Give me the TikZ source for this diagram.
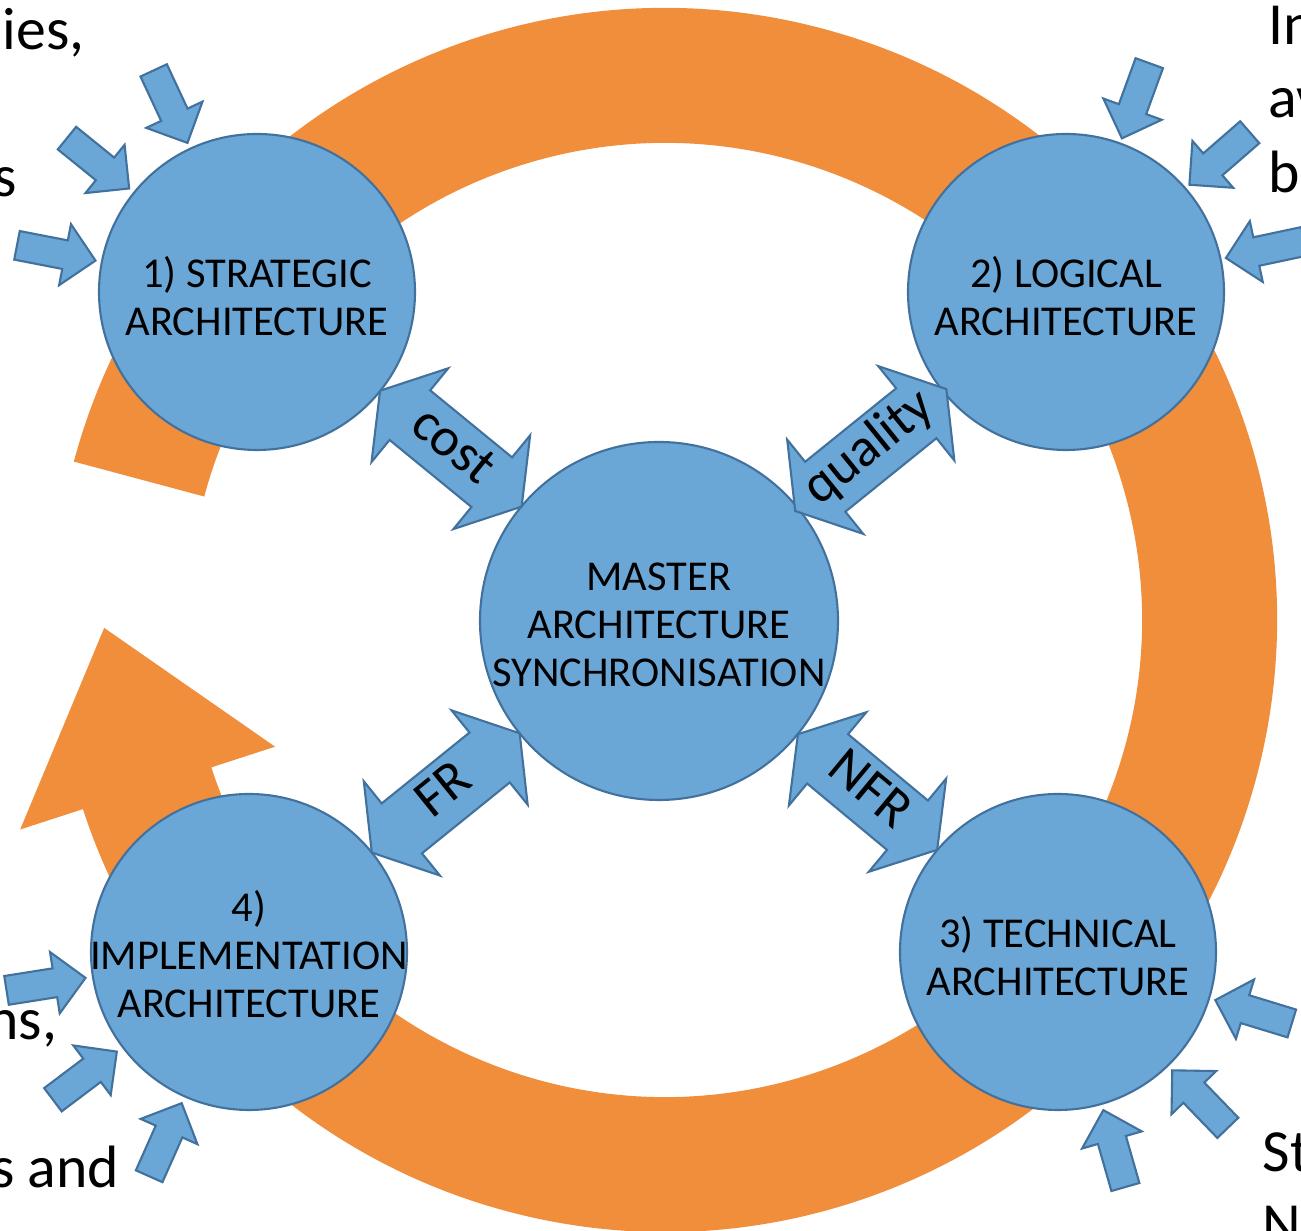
\documentclass[tikz,border=0pt]{standalone}
\usepackage{fontspec}
\setmainfont{Carlito}
\usetikzlibrary{shapes.arrows,calc}
\definecolor{ringorange}{HTML}{F08E3C}
\definecolor{hubblue}{HTML}{6AA7D7}
\definecolor{hubline}{HTML}{41719C}

\begin{document}
\begin{tikzpicture}[
    hub/.style={circle, fill=hubblue, draw=hubline, line width=0.6pt, inner sep=0pt, outer sep=0pt},
    hubtext/.style={align=center, font=\fontsize{12.1}{13.7}\selectfont},
    link/.style={double arrow, fill=hubblue, draw=hubline, line width=0.6pt,
      double arrow head extend=0.285cm, double arrow tip angle=115,
      inner xsep=0pt, inner ysep=0pt, text height=0.43cm, text depth=0.19cm,
      font=\fontsize{15.5}{18}\selectfont},
    feed/.style={single arrow, fill=hubblue, draw=hubline, line width=0.6pt,
      minimum height=0.8cm, inner xsep=0pt, inner ysep=0.135cm,
      single arrow head extend=0.165cm, anchor=tip},
    side/.style={font=\fontsize{17}{21}\selectfont, inner sep=0pt}]
  \useasboundingbox (0,0) rectangle (13.01,-12.31);
  \clip (0,0) rectangle (13.01,-12.31);

  \coordinate (ring) at (6.65,-6.20);
  \fill[ringorange] ($(ring)+(165:6.12)$) arc[start angle=165, end angle=-162, radius=6.12]
    -- ($(ring)+(-162:6.78)$) -- ($(ring)+(-162:5.445)+(105:1.66)$)
    -- ($(ring)+(-162:4.10)$) -- ($(ring)+(-162:4.77)$)
    arc[start angle=-162, end angle=165, radius=4.77] -- cycle;

  \node[hub, minimum size=3.16cm] (strat) at (2.57,-2.92) {};
  \node[hub, minimum size=3.16cm] (logic) at (10.66,-2.92) {};
  \node[hub, minimum size=3.58cm] (master) at (6.59,-6.21) {};
  \node[hub, minimum size=3.16cm] (impl) at (2.49,-9.52) {};
  \node[hub, minimum size=3.16cm] (tech) at (10.58,-9.52) {};

  \node[hubtext] (strat-t) at ($(strat)+(0,-0.04)$) {1) STRATEGIC\\ARCHITECTURE};
  \node[hubtext] (logic-t) at ($(logic)+(0,-0.04)$) {2) LOGICAL\\ARCHITECTURE};
  \node[hubtext] (master-t) at ($(master)+(0,-0.04)$) {MASTER\\ARCHITECTURE\\SYNCHRONISATION};
  \node[hubtext] (tech-t) at ($(tech)+(0,-0.04)$) {3) TECHNICAL\\ARCHITECTURE};
  \node[hubtext] (impl-t) at ($(impl)+(0,-0.02)$) {4)\\IMPLEMENTATION\\ARCHITECTURE};

  \node[link, rotate=-39.3, minimum height=1.83cm] (cost) at ($(strat.-39.3)!0.5!(master.140.7)$) {cost};
  \node[link, rotate=38.9, minimum height=1.86cm] (quality) at ($(master.38.9)!0.5!(logic.218.9)$) {quality};
  \node[link, rotate=38.9, minimum height=1.90cm] (fr) at ($(impl.38.9)!0.5!(master.218.9)$) {FR};
  \node[link, rotate=-39.7, minimum height=1.81cm] (nfr) at ($(master.-39.7)!0.5!(tech.140.3)$) {NFR};

  \foreach \a in {115,141,169}
    \node[feed, rotate=\a+180] (strat-in-\a) at ($(strat)+(\a:1.63)$) {};
  \foreach \a in {12,41,70}
    \node[feed, rotate=\a+180] (logic-in-\a) at ($(logic)+(\a:1.62)$) {};
  \foreach \a in {-74,-46,-17}
    \node[feed, rotate=\a+180] (tech-in-\a) at ($(tech)+(\a:1.63)$) {};
  \foreach \a in {189,217,246}
    \node[feed, rotate=\a+180] (impl-in-\a) at ($(impl)+(\a:1.64)$) {};

  \node[side, anchor=base east] (left-a) at (0.85,-0.50) {ies,};
  \node[side, anchor=base east] (left-b) at (0.18,-1.97) {s};
  \node[side, anchor=base east] (left-c) at (0.58,-10.40) {ns,};
  \node[side, anchor=base east] (left-d) at (1.20,-11.88) {s and};
  \node[side, anchor=base west] (right-a) at (12.68,-0.45) {In};
  \node[side, anchor=base west] (right-b) at (12.68,-1.18) {av};
  \node[side, anchor=base west] (right-c) at (12.68,-1.93) {bu};
  \node[side, anchor=base west] (right-d) at (12.62,-11.72) {St};
  \node[side, anchor=base west] (right-e) at (12.62,-12.45) {N};
\end{tikzpicture}
\end{document}
